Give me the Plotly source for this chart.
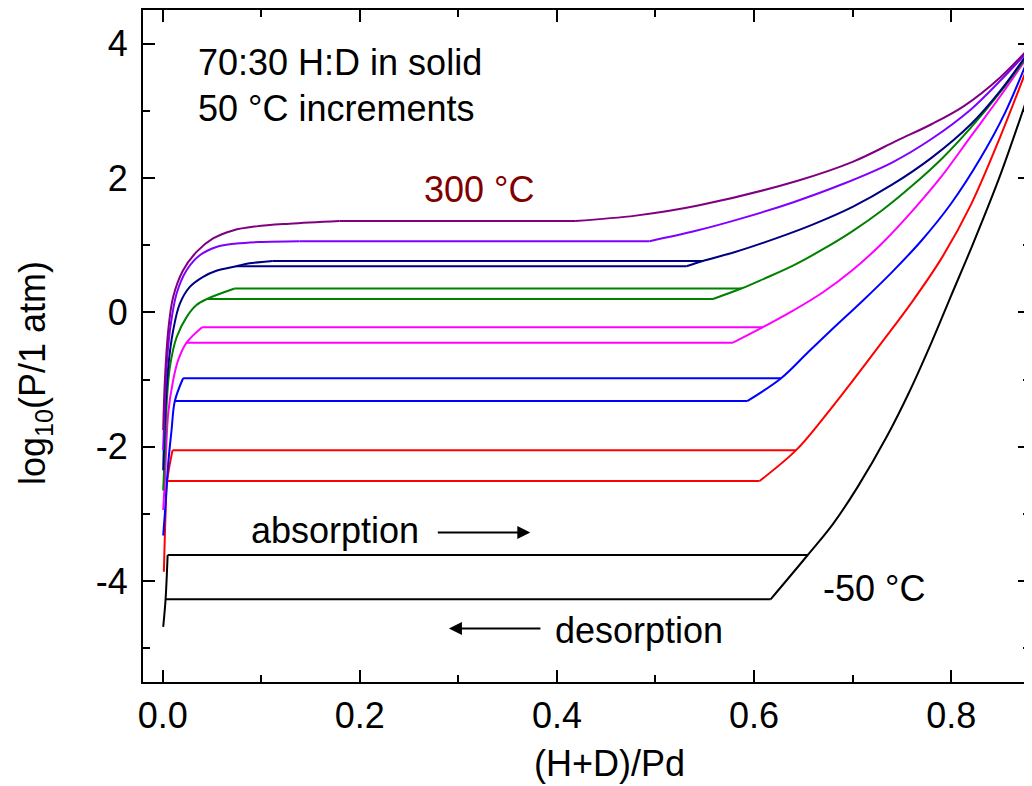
import plotly.graph_objects as go

# ---- data (x = (H+D)/Pd, y = log10(P/1 atm)) ----
TEMPS = ["-50 °C", "0 °C", "50 °C", "100 °C", "150 °C", "200 °C", "250 °C", "300 °C"]
COLORS = ["#000000", "#FF0000", "#0000FF", "#FF00FF", "#008000", "#000080", "#8000FF", "#800080"]

# alpha branch: from the lowest point up to the start of the absorption plateau
alpha_x_m50 = [0.0005, 0.0029, 0.0050]
alpha_y_m50 = [-4.68, -4.27, -3.61]
alpha_x_0 = [0.0012, 0.0030, 0.0045, 0.0100]
alpha_y_0 = [-3.86, -2.95, -2.51, -2.05]
alpha_x_50 = [0.0005, 0.0022, 0.0056, 0.0090, 0.0123, 0.0207]
alpha_y_50 = [-3.32, -2.99, -2.25, -1.75, -1.32, -0.98]
alpha_x_100 = [0.0005, 0.0022, 0.0056, 0.0106, 0.0157, 0.0242, 0.0400]
alpha_y_100 = [-2.94, -2.50, -1.50, -1.01, -0.71, -0.45, -0.22]
alpha_x_150 = [0.0005, 0.0022, 0.0042, 0.0073, 0.0141, 0.0242, 0.0343, 0.0450, 0.0730]
alpha_y_150 = [-2.65, -2.05, -1.31, -0.81, -0.37, -0.07, 0.11, 0.20, 0.355]
alpha_x_200 = [0.0005, 0.0022, 0.0056, 0.0106, 0.0174, 0.0275, 0.0410, 0.0545, 0.0747, 0.0880, 0.1117]
alpha_y_200 = [-2.35, -1.60, -0.81, -0.27, 0.13, 0.38, 0.53, 0.62, 0.687, 0.73, 0.766]
alpha_x_250 = [0.0005, 0.0022, 0.0039, 0.0073, 0.0141, 0.0242, 0.0376, 0.0545, 0.0747, 0.0983, 0.1387]
alpha_y_250 = [-2.05, -1.31, -0.81, -0.27, 0.28, 0.627, 0.85, 0.974, 1.025, 1.048, 1.06]
alpha_x_300 = [0.0005, 0.0022, 0.0056, 0.0106, 0.0207, 0.0343, 0.0511, 0.0713, 0.0950, 0.1286, 0.1792]
alpha_y_300 = [-1.75, -1.01, -0.27, 0.23, 0.627, 0.90, 1.10, 1.22, 1.28, 1.32, 1.36]

# beta branch: from the end of the desorption plateau (via the end of the absorption plateau) upwards
beta_x_m50 = [0.6168, 0.6545, 0.6800, 0.7050, 0.7350, 0.7570, 0.7800, 0.8000, 0.8230, 0.8500, 0.8787]
beta_y_m50 = [-4.27, -3.61, -3.15, -2.60, -1.84, -1.20, -0.45, 0.25, 1.05, 2.05, 3.26]
beta_x_0 = [0.6056, 0.6427, 0.6700, 0.7000, 0.7300, 0.7600, 0.7900, 0.8200, 0.8500, 0.8787]
beta_y_0 = [-2.51, -2.05, -1.58, -1.02, -0.44, 0.15, 0.80, 1.60, 2.62, 3.70]
beta_x_50 = [0.5931, 0.6275, 0.6550, 0.6800, 0.7100, 0.7400, 0.7700, 0.8000, 0.8300, 0.8550, 0.8787]
beta_y_50 = [-1.32, -0.98, -0.59, -0.24, 0.17, 0.60, 1.07, 1.62, 2.30, 2.98, 3.80]
beta_x_100 = [0.5786, 0.6090, 0.6400, 0.6700, 0.7000, 0.7300, 0.7600, 0.7900, 0.8200, 0.8500, 0.8787]
beta_y_100 = [-0.45, -0.22, 0.03, 0.30, 0.63, 1.03, 1.50, 2.02, 2.62, 3.22, 3.83]
beta_x_150 = [0.5584, 0.5870, 0.6100, 0.6400, 0.6700, 0.7000, 0.7300, 0.7600, 0.7900, 0.8200, 0.8500, 0.8787]
beta_y_150 = [0.20, 0.355, 0.50, 0.70, 0.94, 1.21, 1.52, 1.88, 2.28, 2.75, 3.28, 3.85]
beta_x_200 = [0.5314, 0.5480, 0.5800, 0.6200, 0.6600, 0.7000, 0.7400, 0.7800, 0.8200, 0.8500, 0.8787]
beta_y_200 = [0.687, 0.766, 0.895, 1.09, 1.31, 1.57, 1.90, 2.30, 2.80, 3.30, 3.88]
beta_x_250 = [0.4940, 0.5400, 0.5900, 0.6400, 0.6900, 0.7400, 0.7800, 0.8200, 0.8500, 0.8787]
beta_y_250 = [1.06, 1.21, 1.41, 1.64, 1.91, 2.23, 2.58, 3.02, 3.45, 3.90]
beta_x_300 = [0.4185, 0.4800, 0.5432, 0.6443, 0.7000, 0.7455, 0.7800, 0.8129, 0.8500, 0.8787]
beta_y_300 = [1.36, 1.44, 1.59, 1.96, 2.24, 2.56, 2.80, 3.07, 3.50, 3.93]

# x where the desorption plateau meets the alpha branch (None: no hysteresis visible)
DES_START_X = [0.0029, 0.0045, 0.0123, 0.0242, 0.0450, 0.0747, None, None]

ALPHA = [(alpha_x_m50, alpha_y_m50), (alpha_x_0, alpha_y_0), (alpha_x_50, alpha_y_50),
         (alpha_x_100, alpha_y_100), (alpha_x_150, alpha_y_150), (alpha_x_200, alpha_y_200),
         (alpha_x_250, alpha_y_250), (alpha_x_300, alpha_y_300)]
BETA = [(beta_x_m50, beta_y_m50), (beta_x_0, beta_y_0), (beta_x_50, beta_y_50),
        (beta_x_100, beta_y_100), (beta_x_150, beta_y_150), (beta_x_200, beta_y_200),
        (beta_x_250, beta_y_250), (beta_x_300, beta_y_300)]

X_TICKS = [0.0, 0.2, 0.4, 0.6, 0.8]
X_TICKTEXT = ["0.0", "0.2", "0.4", "0.6", "0.8"]
Y_TICKS = [-4, -2, 0, 2, 4]
Y_TICKTEXT = ["-4", "-2", "0", "2", "4"]

FONT = "Liberation Sans, Arial, sans-serif"
FS = 36
LW = 2

fig = go.Figure()
for name, col, (ax_, ay_), (bx_, by_), dx0 in zip(TEMPS, COLORS, ALPHA, BETA, DES_START_X):
    line_s = dict(color=col, width=LW, shape="spline", smoothing=1.0)
    line_l = dict(color=col, width=LW)
    # alpha branch
    fig.add_trace(go.Scatter(x=ax_, y=ay_, mode="lines", line=line_s, name=name, showlegend=False))
    # beta branch
    fig.add_trace(go.Scatter(x=bx_, y=by_, mode="lines", line=line_s, name=name, showlegend=False))
    if dx0 is None:
        k = 0
    else:
        k = 1
        # desorption plateau
        fig.add_trace(go.Scatter(x=[dx0, bx_[0]], y=[by_[0], by_[0]], mode="lines",
                                 line=line_l, name=name, showlegend=False))
    # absorption plateau
    fig.add_trace(go.Scatter(x=[ax_[-1], bx_[k]], y=[ay_[-1], by_[k]], mode="lines",
                             line=line_l, name=name, showlegend=False))

axis_common = dict(showline=True, linewidth=2, linecolor="black", mirror="ticks",
                   ticks="inside", ticklen=12, tickwidth=2, tickcolor="black",
                   showgrid=False, zeroline=False,
                   tickfont=dict(family=FONT, size=FS, color="black"))

fig.update_xaxes(range=[-0.02, 0.88], tickmode="array", tickvals=X_TICKS, ticktext=X_TICKTEXT,
                 minor=dict(dtick=0.1, tick0=0, ticks="inside", ticklen=7, tickwidth=2, tickcolor="black"),
                 ticklabelstandoff=1, **axis_common)
fig.update_yaxes(range=[-5.5, 4.5], tickmode="array", tickvals=Y_TICKS, ticktext=Y_TICKTEXT,
                 minor=dict(dtick=1, tick0=0, ticks="inside", ticklen=7, tickwidth=2, tickcolor="black"),
                 ticklabelstandoff=6, **axis_common)

ann = []
def txt(x, y, s, color="black", xanchor="center", size=FS):
    ann.append(dict(x=x, y=y, xref="x", yref="y", text=s, showarrow=False,
                    xanchor=xanchor, yanchor="middle",
                    font=dict(family=FONT, size=size, color=color)))

txt(0.034, 3.72, "70:30 H:D in solid", xanchor="left")
txt(0.034, 3.04, "50 °C increments", xanchor="left")
txt(0.3213, 1.833, "300 °C", color="#800000")
txt(0.7217, -4.105, "-50 °C")
txt(0.1751, -3.242, "absorption")
txt(0.4834, -4.73, "desorption")

# arrows
ann.append(dict(x=0.373, y=-3.276, xref="x", yref="y", ax=-94, ay=0, axref="pixel", ayref="pixel",
                text="", showarrow=True, arrowhead=2, arrowsize=1.3, arrowwidth=2, arrowcolor="black"))
ann.append(dict(x=0.2904, y=-4.705, xref="x", yref="y", ax=93, ay=0, axref="pixel", ayref="pixel",
                text="", showarrow=True, arrowhead=2, arrowsize=1.3, arrowwidth=2, arrowcolor="black"))

# axis titles
ann.append(dict(x=-0.1215, y=0.46, xref="paper", yref="paper", text="log<sub>10</sub>(P/1 atm)",
                textangle=-90, showarrow=False, xanchor="center", yanchor="middle",
                font=dict(family=FONT, size=FS, color="black")))
ann.append(dict(x=0.526, y=-0.122, xref="paper", yref="paper", text="(H+D)/Pd",
                showarrow=False, xanchor="center", yanchor="middle",
                font=dict(family=FONT, size=FS, color="black")))

# the page body adds an 8 px margin, so the figure is 8 px smaller to fit the window
fig.update_layout(width=1024, height=778, margin=dict(l=135, r=0, t=2, b=104),
                  plot_bgcolor="white", paper_bgcolor="white", annotations=ann,
                  font=dict(family=FONT, size=FS, color="black"))

fig.write_html("out.html")
